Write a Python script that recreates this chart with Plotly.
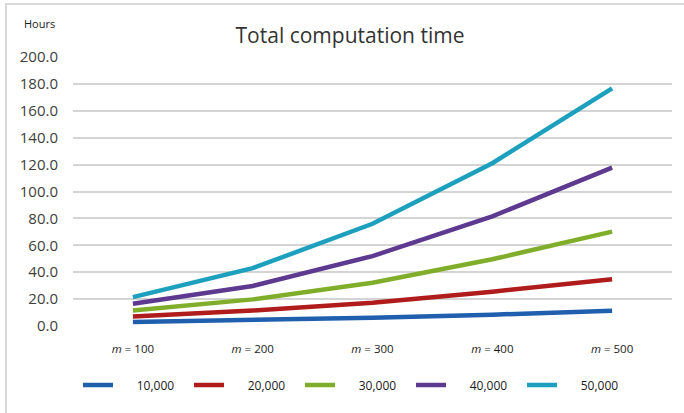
import plotly.graph_objects as go

# Categories (m values) and series (sample sizes)
categories = ["m = 100", "m = 200", "m = 300", "m = 400", "m = 500"]
category_labels = ["<i>m</i> = 100", "<i>m</i> = 200", "<i>m</i> = 300",
                   "<i>m</i> = 400", "<i>m</i> = 500"]
series_names = ["10,000", "20,000", "30,000", "40,000", "50,000"]

hours_10k = [3.0, 4.5, 6.2, 8.4, 11.3]
hours_20k = [7.0, 11.5, 17.3, 25.5, 34.8]
hours_30k = [11.5, 19.8, 32.2, 49.6, 70.2]
hours_40k = [16.5, 29.8, 52.0, 81.5, 117.8]
hours_50k = [21.5, 43.0, 76.0, 121.0, 176.7]

series_values = [hours_10k, hours_20k, hours_30k, hours_40k, hours_50k]
series_colors = ["#1f5fad", "#b01c1c", "#80ae2a", "#5d3a90", "#1ca0be"]

y_ticks = [0, 20, 40, 60, 80, 100, 120, 140, 160, 180, 200]

W, H = 684, 413
L, R, T, B = 73, 12, 57, 87
pw = W - L - R
ph = H - T - B

fig = go.Figure()
for name, vals, col in zip(series_names, series_values, series_colors):
    fig.add_trace(go.Scatter(
        x=categories, y=vals, name="\u00a0" * 6 + name, mode="lines",
        line=dict(color=col, width=4.5),
        cliponaxis=False,
    ))

def px_x(p):
    return (p - L) / pw

def px_y(p):
    return (H - B - p) / ph

fig.update_layout(
    width=W, height=H,
    margin=dict(l=L, r=R, t=T, b=B, autoexpand=False),
    paper_bgcolor="white", plot_bgcolor="white",
    font=dict(family="Open Sans", color="#404040"),
    title=dict(text="Total computation time", x=px_x(350), xanchor="center",
               xref="paper", y=1 - 36 / H, yanchor="middle",
               font=dict(size=21, color="#333333")),
    xaxis=dict(
        type="category", tickmode="array", tickvals=categories,
        ticktext=category_labels, showgrid=False, showline=False,
        ticks="", tickfont=dict(size=11.5, color="#1a1a1a"),
        ticklabelstandoff=14, range=[-0.5, 4.5],
    ),
    yaxis=dict(
        range=[0, 200], tickmode="array", tickvals=y_ticks,
        ticktext=[f"{v:.1f}" for v in y_ticks],
        showgrid=True, gridcolor="#d4d4d4", gridwidth=1.5,
        zeroline=False, showline=False, ticks="",
        tickfont=dict(size=15, color="#404040"), ticklabelstandoff=14,
    ),
    showlegend=True,
    legend=dict(
        orientation="h", x=px_x(78), xanchor="left",
        y=px_y(385), yanchor="middle",
        entrywidth=66, entrywidthmode="pixels",
        font=dict(size=12, color="#1a1a1a"), bgcolor="rgba(0,0,0,0)",
    ),
    shapes=[dict(
        type="rect", xref="paper", yref="paper",
        x0=px_x(6), x1=px_x(W + 20),
        y0=px_y(H + 20), y1=px_y(4),
        line=dict(color="#d9d9d9", width=2), fillcolor="rgba(0,0,0,0)",
        layer="below",
    )],
    annotations=[dict(
        text="Hours", xref="paper", yref="paper",
        x=px_x(39), y=px_y(24),
        xanchor="center", yanchor="middle", showarrow=False,
        font=dict(size=11, color="#1a1a1a"),
    )],
)

fig.write_html("out.html")
